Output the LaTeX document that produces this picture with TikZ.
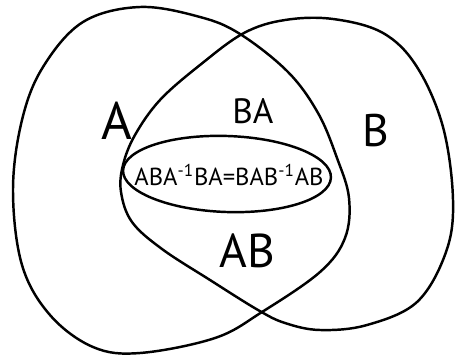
\documentclass[tikz,border=0pt]{standalone}
\usepackage{fontspec}
\setmainfont{PT Sans}
\begin{document}
\begin{tikzpicture}[x=0.02cm,y=-0.02cm,line width=1.4pt]

            \useasboundingbox (0,0) rectangle (455,358);

            \draw plot[smooth cycle,tension=0.6] coordinates {
              (140,7) (200,17) (240,34) (288,72) (318,113) (337,158)
              (349,198) (345,238) (320,272) (262,312) (215,338)
              (140,353) (93,347) (50,315) (22,265) (13,190) (22,120)
              (43,67) (83,22)};

            \draw plot[smooth cycle,tension=0.6] coordinates {
              (244,33) (200,65) (160,100) (135,135) (123,165) (121,192)
              (132,222) (162,249) (210,280) (258,310) (285,323)
              (320,330) (367,325) (417,302) (446,252) (453,200)
              (443,127) (417,67) (383,33) (333,19) (285,20)};

            \draw (227,174) ellipse [x radius=104, y radius=38, rotate=-2];

            \node (a) at (117,121) {\fontsize{30}{30}\selectfont A};
            \node (ba) at (253,111) {\fontsize{20}{20}\selectfont BA};
            \node (b) at (376,131) {\fontsize{26}{26}\selectfont B};
            \node (ab) at (247,251) {\fontsize{27}{27}\selectfont AB};
            \node (eq) at (229,175)
            {\fontsize{14}{14}\selectfont ABA\textsuperscript{-1}BA=BAB\textsuperscript{-1}AB};
        \end{tikzpicture}
\end{document}
